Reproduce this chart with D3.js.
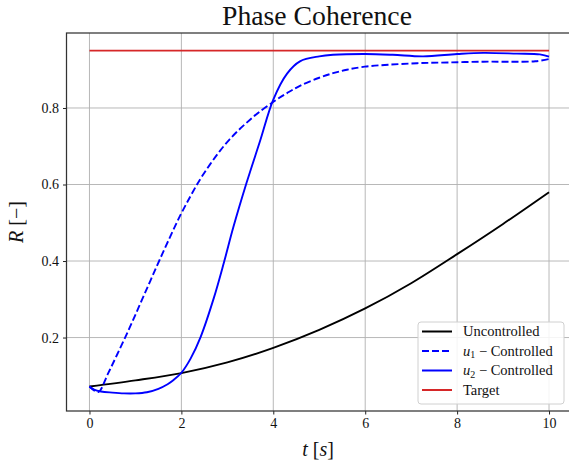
<!DOCTYPE html>
<html><head><meta charset="utf-8">
<script src="https://cdn.jsdelivr.net/npm/d3@7"></script>
<style>
html,body{margin:0;padding:0;background:#fff;}
svg{display:block;}
text{font-family:"Liberation Serif","Times New Roman",Tinos,serif;fill:#111;}
</style></head><body>
<svg id="chart" width="569" height="466"></svg>
<script>
// ---- data ----
const xTicks = [0, 2, 4, 6, 8, 10];
const yTicks = [0.2, 0.4, 0.6, 0.8];
const tUnc = [0,1,2,3,4,5,6,7,8,9,10];
const rUnc = [0.072,0.088,0.107,0.135,0.173,0.220,0.276,0.342,0.418,0.497,0.580];
const tU1 = [0,0.1,0.2,0.4,0.6,0.86,1.1,1.32,1.53,1.75,1.97,2.2,2.4,2.62,2.84,3.05,3.27,3.5,3.71,4.05,4.3,4.58,5.0,5.3,5.6,5.99,6.5,7.13,7.8,8.57,9.2,9.7,10];
const rU1 = [0.072,0.062,0.058,0.105,0.155,0.222,0.287,0.347,0.404,0.462,0.518,0.570,0.612,0.652,0.688,0.718,0.745,0.770,0.791,0.820,0.839,0.858,0.879,0.891,0.900,0.908,0.913,0.917,0.919,0.921,0.921,0.922,0.928];
const tU2 = [0,0.1,0.25,0.5,0.75,1.0,1.25,1.5,1.7,1.83,2.0,2.2,2.42,2.71,2.93,3.13,3.42,3.71,4.0,4.3,4.58,5.0,5.3,6.0,6.6,7.26,8.0,8.57,9.3,9.8,10];
const rU2 = [0.072,0.064,0.059,0.056,0.054,0.054,0.057,0.066,0.078,0.089,0.108,0.145,0.202,0.305,0.398,0.488,0.605,0.713,0.822,0.890,0.922,0.935,0.939,0.941,0.939,0.935,0.941,0.944,0.942,0.940,0.934];
const tTarget = [0, 10];
const rTarget = [0.95, 0.95];
const seriesNames = ["Uncontrolled", "u1", "u2", "Target"];

const svg = d3.select("#chart");
const L = 66.5, R = 572, T = 33, B = 411;
const x = d3.scaleLinear().domain([-0.5, 10.5]).range([L, R]);
const y = d3.scaleLinear().domain([0.008, 0.996]).range([B, T]);

// grid
const grid = svg.append("g");
grid.selectAll(".gx").data(xTicks).enter().append("line")
  .attr("x1", d => x(d)).attr("x2", d => x(d)).attr("y1", T).attr("y2", B)
  .attr("stroke", "#b0b0b0").attr("stroke-width", 0.9);
grid.selectAll(".gy").data(yTicks).enter().append("line")
  .attr("x1", L).attr("x2", R).attr("y1", d => y(d)).attr("y2", d => y(d))
  .attr("stroke", "#b0b0b0").attr("stroke-width", 0.9);

// lines
const line = d3.line().x(d => x(d[0])).y(d => y(d[1])).curve(d3.curveCatmullRom.alpha(0.5));
const zip = (a, b) => a.map((v, i) => [v, b[i]]);
const series = [
  {name: seriesNames[0], data: zip(tUnc, rUnc), color: "#000", dash: null},
  {name: seriesNames[1], data: zip(tU1, rU1), color: "#0000ff", dash: "7,3"},
  {name: seriesNames[2], data: zip(tU2, rU2), color: "#0000ff", dash: null},
  {name: seriesNames[3], data: zip(tTarget, rTarget), color: "#d62728", dash: null}
];
svg.append("g").selectAll("path").data(series).enter().append("path")
  .attr("d", d => line(d.data)).attr("fill", "none")
  .attr("stroke", d => d.color).attr("stroke-width", 1.9)
  .attr("stroke-dasharray", d => d.dash)
  .attr("stroke-linejoin", "round");

// axes
const xAxis = d3.axisBottom(x).tickValues(xTicks).tickSize(3.5).tickPadding(4).tickFormat(d3.format("d"));
const yAxis = d3.axisLeft(y).tickValues(yTicks).tickSize(3.5).tickPadding(4).tickFormat(d3.format(".1f"));
const gx = svg.append("g").attr("transform", `translate(0,${B})`).call(xAxis);
const gy = svg.append("g").attr("transform", `translate(${L},0)`).call(yAxis);
[gx, gy].forEach(g => {
  g.select(".domain").remove();
  g.selectAll(".tick line").attr("stroke", "#222").attr("stroke-width", 1);
  g.selectAll(".tick text").attr("font-size", 14).attr("fill", "#222");
});
// spines
svg.append("rect").attr("x", L).attr("y", T).attr("width", R - L).attr("height", B - T)
  .attr("fill", "none").attr("stroke", "#333").attr("stroke-width", 1.25);

// title
const title = svg.append("text").attr("x", 317).attr("y", 25).attr("text-anchor", "middle")
  .attr("font-size", 22).text("Phase Coherence");
const tw = title.node().getComputedTextLength();
title.attr("font-size", 22 * 190 / tw);

// axis labels
const xl = svg.append("text").attr("x", 318).attr("y", 456).attr("text-anchor", "middle").attr("font-size", 20);
xl.append("tspan").attr("font-style", "italic").text("t");
xl.append("tspan").text(" [");
xl.append("tspan").attr("font-style", "italic").text("s");
xl.append("tspan").text("]");
const yl = svg.append("text").attr("transform", `translate(23,${(T + B) / 2}) rotate(-90)`)
  .attr("text-anchor", "middle").attr("font-size", 20);
yl.append("tspan").attr("font-style", "italic").text("R");
yl.append("tspan").text(" [−]");

// legend
const lg = svg.append("g");
lg.append("rect").attr("x", 418).attr("y", 322).attr("width", 146).attr("height", 82)
  .attr("rx", 3).attr("fill", "#fff").attr("fill-opacity", 0.85)
  .attr("stroke", "#d0d0d0").attr("stroke-width", 1);
const ly = [331.5, 351, 370.5, 390];
series.forEach((s, i) => {
  lg.append("line").attr("x1", 422).attr("x2", 452).attr("y1", ly[i]).attr("y2", ly[i])
    .attr("stroke", s.color).attr("stroke-width", 2).attr("stroke-dasharray", s.dash);
  const t = lg.append("text").attr("x", 463).attr("y", ly[i] + 4.5).attr("font-size", 14.5);
  if (s.name === "u1" || s.name === "u2") {
    t.append("tspan").attr("font-style", "italic").text("u");
    t.append("tspan").attr("font-size", 10).attr("dy", 2.5).text(s.name.slice(1));
    t.append("tspan").attr("dy", -2.5).text(" − Controlled");
  } else {
    t.text(s.name);
  }
});
</script>
</body></html>
